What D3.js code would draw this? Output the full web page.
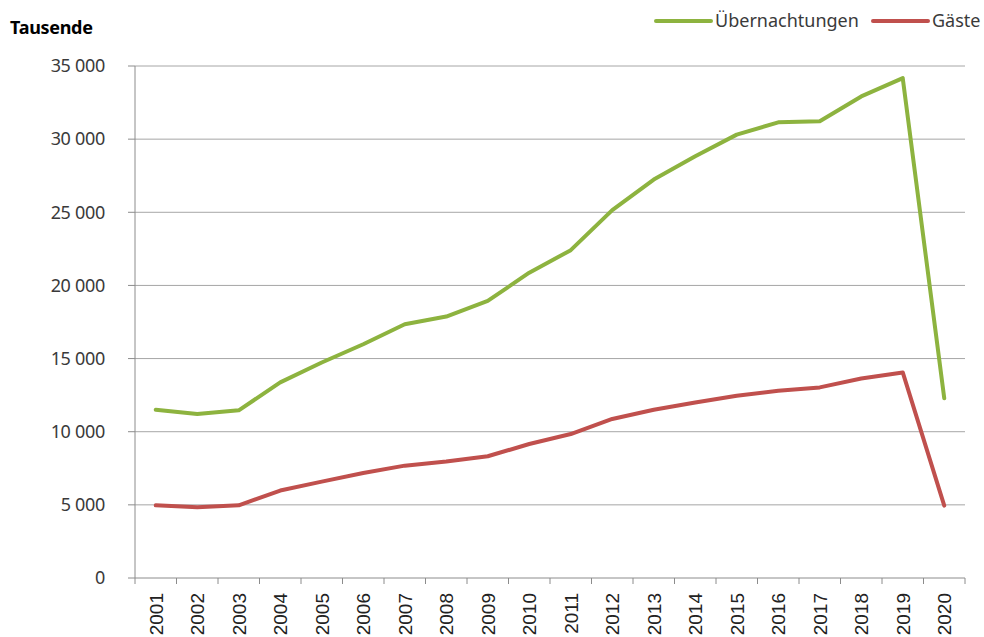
<!DOCTYPE html>
<html>
<head>
<meta charset="utf-8">
<script src="https://cdn.jsdelivr.net/npm/d3@7.9.0/dist/d3.min.js"></script>
<style>
  body { margin: 0; background: #fff; }
  svg { display: block; }
</style>
</head>
<body>
<svg width="984" height="637"></svg>
<script>
// data (Tausende)
const years = ['2001','2002','2003','2004','2005','2006','2007','2008','2009','2010',
               '2011','2012','2013','2014','2015','2016','2017','2018','2019','2020'];
const uebernachtungen = [11500, 11210, 11460, 13370, 14730, 15980, 17350, 17870, 18940, 20870,
                         22410, 25150, 27240, 28830, 30310, 31150, 31220, 32920, 34170, 12280];
const gaeste = [4970, 4840, 4970, 5980, 6590, 7180, 7680, 7960, 8320, 9160,
                9840, 10870, 11500, 12000, 12460, 12800, 13030, 13640, 14050, 4950];
const yTicks = [0, 5000, 10000, 15000, 20000, 25000, 30000, 35000];

const series = [
  { name: 'Übernachtungen', values: uebernachtungen, color: '#8db33f' },
  { name: 'Gäste', values: gaeste, color: '#c0504d' }
];

const margin = { top: 66, right: 19, bottom: 59, left: 135 };
const width = 984 - margin.left - margin.right;
const height = 637 - margin.top - margin.bottom;

const svg = d3.select('svg');
const g = svg.append('g').attr('transform', `translate(${margin.left},${margin.top})`);

let x = d3.scaleBand().domain(years).range([0, width]);
let y = d3.scaleLinear().domain([0, 35000]).range([height, 0]);

const fmt = (v) => d3.format(',')(v).replace(/,/g, ' ');

// gridlines
g.selectAll('.grid')
  .data(yTicks.filter((d) => d > 0))
  .join('line')
  .attr('x1', 0).attr('x2', width)
  .attr('y1', (d) => y(d)).attr('y2', (d) => y(d))
  .attr('stroke', '#a6a6a6').attr('stroke-width', 1);

// y axis
g.append('line')
  .attr('x1', 0).attr('x2', 0).attr('y1', 0).attr('y2', height)
  .attr('stroke', '#8c8c8c');
g.selectAll('.ytick')
  .data(yTicks)
  .join('line')
  .attr('x1', -7).attr('x2', 0)
  .attr('y1', (d) => y(d)).attr('y2', (d) => y(d))
  .attr('stroke', '#8c8c8c');
g.selectAll('.ylabel')
  .data(yTicks)
  .join('text')
  .attr('x', -30).attr('y', (d) => y(d))
  .attr('dy', '0.35em')
  .attr('text-anchor', 'end')
  .attr('font-family', 'Noto Sans, sans-serif')
  .attr('font-size', 18)
  .attr('fill', '#3a3a3a')
  .attr('letter-spacing', '-0.3')
  .text((d) => fmt(d));

// x axis
g.append('line')
  .attr('x1', 0).attr('x2', width).attr('y1', height).attr('y2', height)
  .attr('stroke', '#8c8c8c');
const bounds = years.map((d) => x(d)).concat([width]);
g.selectAll('.xtick')
  .data(bounds)
  .join('line')
  .attr('x1', (d) => d).attr('x2', (d) => d)
  .attr('y1', height).attr('y2', height + 6)
  .attr('stroke', '#8c8c8c');
g.selectAll('.xlabel')
  .data(years)
  .join('text')
  .attr('transform', (d) => `translate(${x(d) + x.bandwidth() / 2 + 7},${height + 15}) rotate(-90)`)
  .attr('text-anchor', 'end')
  .attr('font-family', 'Liberation Sans, Arial, sans-serif')
  .attr('font-size', 19)
  .attr('fill', '#222')
  .text((d) => d);

// lines
const line = d3.line()
  .x((d, i) => x(years[i]) + x.bandwidth() / 2)
  .y((d) => y(d));

series.forEach((s) => {
  g.append('path')
    .attr('d', line(s.values))
    .attr('fill', 'none')
    .attr('stroke', s.color)
    .attr('stroke-width', 4)
    .attr('stroke-linejoin', 'round')
    .attr('stroke-linecap', 'round');
});

// title
svg.append('text')
  .attr('x', 10).attr('y', 34)
  .attr('font-family', 'Noto Sans, sans-serif')
  .attr('font-weight', 'bold')
  .attr('font-size', 18)
  .attr('letter-spacing', '-0.3')
  .attr('fill', '#000')
  .text('Tausende');

// legend
const legend = [
  { x: 656, s: series[0] },
  { x: 873, s: series[1] }
];
legend.forEach((l) => {
  svg.append('line')
    .attr('x1', l.x).attr('x2', l.x + 55)
    .attr('y1', 21).attr('y2', 21)
    .attr('stroke', l.s.color).attr('stroke-width', 4)
    .attr('stroke-linecap', 'round');
  svg.append('text')
    .attr('x', l.x + 59).attr('y', 21)
    .attr('dy', '0.35em')
    .attr('font-family', 'Noto Sans, sans-serif')
    .attr('font-size', 18)
    .attr('fill', '#3a3a3a')
    .text(l.s.name);
});
</script>
</body>
</html>
